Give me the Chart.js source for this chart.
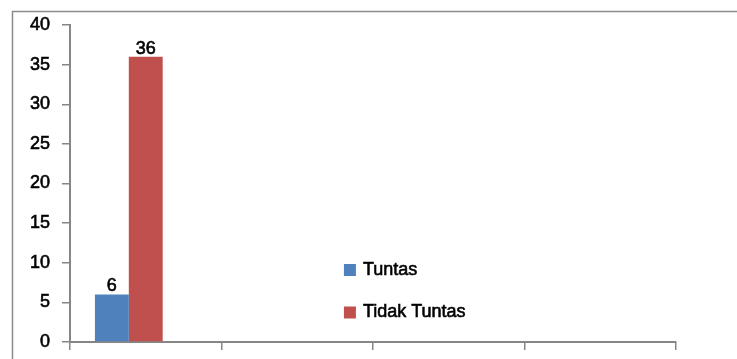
<!DOCTYPE html>
<html>
<head>
<meta charset="utf-8">
<script src="https://cdn.jsdelivr.net/npm/chart.js@4"></script>
<style>
  html, body { margin: 0; padding: 0; background: #ffffff; }
  #wrap { width: 737px; height: 359px; position: relative; }
</style>
</head>
<body>
<div id="wrap"><canvas id="c" width="737" height="359"></canvas></div>
<script>
// Categories along the x axis (unlabelled groups)
const categories = ['', '', '', ''];
// Series values
const tuntas = [6, null, null, null];
const tidakTuntas = [36, null, null, null];
const seri3 = [null, null, null, null];
// Y axis ticks
const yMin = 0, yMax = 40, yStep = 5;

const FONT = 'Liberation Sans, Arial, sans-serif';
const AXIS = '#868686';
const TEXT_STROKE = 0.6;

// Outer frame of the chart box
const framePlugin = {
  id: 'frame',
  afterDraw(chart) {
    const ctx = chart.ctx;
    ctx.save();
    ctx.strokeStyle = '#8c8c8c';
    ctx.lineWidth = 1.5;
    ctx.strokeRect(12.5, 11.5, 760, 400);
    ctx.restore();
  }
};

function heavyText(ctx, text, x, y) {
  ctx.fillText(text, x, y);
  ctx.lineWidth = TEXT_STROKE;
  ctx.strokeStyle = '#000';
  ctx.strokeText(text, x, y);
}

// Value labels above each bar
const valueLabels = {
  id: 'valueLabels',
  afterDatasetsDraw(chart) {
    const ctx = chart.ctx;
    ctx.save();
    ctx.font = '18px ' + FONT;
    ctx.fillStyle = '#000';
    ctx.textAlign = 'center';
    ctx.textBaseline = 'alphabetic';
    chart.data.datasets.forEach((ds, i) => {
      const meta = chart.getDatasetMeta(i);
      meta.data.forEach((bar, j) => {
        const v = ds.data[j];
        if (v === null || v === undefined) return;
        heavyText(ctx, String(v), bar.x, bar.y - 3);
      });
    });
    ctx.restore();
  }
};

// Legend drawn inside the plot area
const innerLegend = {
  id: 'innerLegend',
  afterDraw(chart) {
    const ctx = chart.ctx;
    const area = chart.chartArea;
    const x0 = area.left + (area.right - area.left) * 0.452;
    const rows = [269.5, 312];
    ctx.save();
    ctx.font = '18px ' + FONT;
    ctx.textBaseline = 'middle';
    ctx.textAlign = 'left';
    let k = 0;
    chart.data.datasets.forEach(ds => {
      if (!ds.label) return;
      const y = rows[k++];
      ctx.fillStyle = ds.backgroundColor;
      ctx.fillRect(x0, y - 5.5, 12, 12);
      ctx.fillStyle = '#000';
      heavyText(ctx, ds.label, x0 + 19, y + 0.5);
    });
    ctx.restore();
  }
};

new Chart(document.getElementById('c'), {
  type: 'bar',
  data: {
    labels: categories,
    datasets: [
      { label: 'Tuntas', data: tuntas, backgroundColor: '#4F81BD' },
      { label: 'Tidak Tuntas', data: tidakTuntas, backgroundColor: '#C0504D' },
      { label: '', data: seri3, backgroundColor: '#9BBB59' }
    ]
  },
  options: {
    responsive: false,
    animation: false,
    devicePixelRatio: 1,
    layout: { padding: { top: 25, right: 61, bottom: 0, left: 0 } },
    datasets: { bar: { categoryPercentage: 0.671, barPercentage: 1.0 } },
    plugins: {
      legend: { display: false },
      tooltip: { enabled: false }
    },
    scales: {
      x: {
        offset: true,
        grid: { offset: true, drawOnChartArea: false, drawTicks: true, tickLength: 8, color: AXIS, lineWidth: 1.5 },
        border: { display: true, color: AXIS, width: 2 },
        ticks: { display: true, font: { family: FONT, size: 1 } },
        afterFit(scale) { scale.height = 17; }
      },
      y: {
        min: yMin,
        max: yMax,
        ticks: {
          stepSize: yStep, color: '#000', padding: 12,
          font: { family: FONT, size: 18 },
          textStrokeColor: '#000', textStrokeWidth: TEXT_STROKE
        },
        grid: { drawOnChartArea: false, drawTicks: true, tickLength: 8, color: AXIS, lineWidth: 1.5 },
        border: { display: true, color: AXIS, width: 2 },
        afterFit(scale) {
          scale.width = 70;
          scale.paddingTop = 0;
          scale.paddingBottom = 0;
        }
      }
    }
  },
  plugins: [framePlugin, valueLabels, innerLegend]
});
</script>
</body>
</html>
